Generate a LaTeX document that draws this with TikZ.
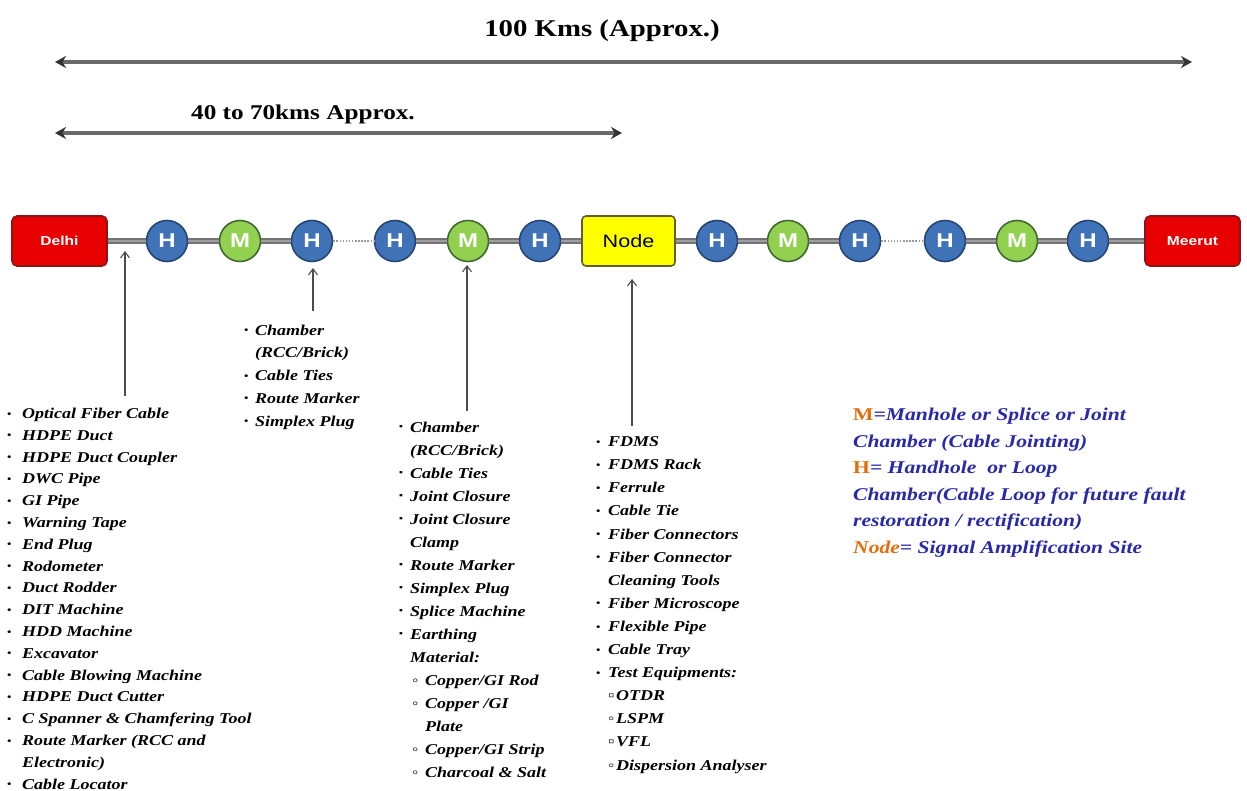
\documentclass[tikz,border=0pt]{standalone}
\usepackage{fontspec}
\usepackage{graphicx}
\setmainfont{Liberation Serif}
\setsansfont{Liberation Sans}
\newfontfamily\wideserif[FakeStretch=1.2]{Liberation Serif}
\newfontfamily\widesans[FakeStretch=1.2]{Liberation Sans}
\usetikzlibrary{arrows.meta}
\definecolor{hblue}{RGB}{64,114,184}
\definecolor{hborder}{RGB}{40,70,115}
\definecolor{mgreen}{RGB}{146,208,80}
\definecolor{mborder}{RGB}{65,105,50}
\definecolor{cityred}{RGB}{232,0,0}
\definecolor{cityborder}{RGB}{140,20,20}
\definecolor{ampyellow}{RGB}{255,255,0}
\definecolor{ampborder}{RGB}{95,95,45}
\definecolor{legblue}{RGB}{40,40,170}
\definecolor{legorange}{RGB}{228,108,10}
\definecolor{dimgray}{RGB}{105,105,105}
\newlength\bw
\newcommand\blt{\makebox[\bw][l]{\raisebox{.2ex}{\fontsize{10}{10}\selectfont\textbullet}}}
\newcommand\sqb{\makebox[\bw][l]{\raisebox{.3ex}{\fontsize{9}{9}\selectfont ▪}}}
\newcommand\cnt{\hspace*{\bw}}
\begin{document}
\begin{tikzpicture}[x=1pt,y=-1pt,
  hc/.style={circle, minimum size=41pt, inner sep=0pt, fill=hblue, draw=hborder, line width=1.6pt,
    text=white, font=\widesans\bfseries\fontsize{20}{20}\selectfont},
  mc/.style={hc, fill=mgreen, draw=mborder},
  city/.style={rectangle, rounded corners=5pt, minimum width=95pt, minimum height=50pt, inner sep=0pt,
    fill=cityred, draw=cityborder, line width=1.6pt, text=white, font=\widesans\bfseries\fontsize{13}{13}\selectfont},
  ampbox/.style={rectangle, rounded corners=4pt, minimum width=93pt, minimum height=50pt, inner sep=0pt,
    fill=ampyellow, draw=ampborder, line width=1.6pt, text=black, font=\widesans\fontsize{18}{18}\selectfont},
  pipe/.style={draw=black!55, double=black!38, double distance=2.5pt, line width=2.2pt},
  dotline/.style={draw=black!40, line width=1.4pt, dash pattern=on 1.5pt off 1.6pt},
  dimarrow/.style={draw=dimgray, line width=3.8pt,
    {Stealth[length=11pt,width=12pt,color=black!80]}-{Stealth[length=11pt,width=12pt,color=black!80]}},
  callout/.style={draw=black!70, line width=1.1pt, -{Straight Barb[length=6pt,width=9pt]}},
  listtext/.style={align=left, inner sep=0pt, anchor=base west, text=black},
  legtext/.style={align=left, inner sep=0pt, anchor=base west, text=legblue,
    font=\wideserif\bfseries\itshape\fontsize{18}{26.5}\selectfont},
  headtext/.style={inner sep=0pt, anchor=base, text=black}
]
\useasboundingbox (0,0) rectangle (1247,791);

% distance indicators
\node[headtext, font=\wideserif\bfseries\fontsize{24}{24}\selectfont] (title) at (602,37) {100 Kms (Approx.)};
\coordinate (L1l) at (55,62);
\coordinate (L1r) at (1192,62);
\draw[dimarrow] (L1l) -- (L1r);
\node[headtext, font=\wideserif\bfseries\fontsize{21}{21}\selectfont] (sub) at (303,120) {40 to 70kms Approx.};
\coordinate (L2l) at (55,133);
\coordinate (L2r) at (622,133);
\draw[dimarrow] (L2l) -- (L2r);

% route
\node[city] (delhi) at (59.5,241) {Delhi};
\node[hc] (h1) at (167,241) {H};
\node[mc] (m1) at (240,241) {M};
\node[hc] (h2) at (312,241) {H};
\node[hc] (h3) at (395,241) {H};
\node[mc] (m2) at (468,241) {M};
\node[hc] (h4) at (540,241) {H};
\node[ampbox] (amp) at (628.5,241) {Node};
\node[hc] (h5) at (717,241) {H};
\node[mc] (m3) at (788,241) {M};
\node[hc] (h6) at (860,241) {H};
\node[hc] (h7) at (945,241) {H};
\node[mc] (m4) at (1017,241) {M};
\node[hc] (h8) at (1088,241) {H};
\node[city] (meerut) at (1192.5,241) {Meerut};

\draw[pipe] (delhi) -- (h1);
\draw[pipe] (h1) -- (m1);
\draw[pipe] (m1) -- (h2);
\draw[dotline] (h2) -- (h3);
\draw[pipe] (h3) -- (m2);
\draw[pipe] (m2) -- (h4);
\draw[pipe] (h4) -- (amp);
\draw[pipe] (amp) -- (h5);
\draw[pipe] (h5) -- (m3);
\draw[pipe] (m3) -- (h6);
\draw[dotline] (h6) -- (h7);
\draw[pipe] (h7) -- (m4);
\draw[pipe] (m4) -- (h8);
\draw[pipe] (h8) -- (meerut);

% call-out arrows
\coordinate (a1b) at (125,396); \coordinate (a1t) at (125,251);
\coordinate (a2b) at (313,311); \coordinate (a2t) at (313,268);
\coordinate (a3b) at (467,411); \coordinate (a3t) at (467,265);
\coordinate (a4b) at (632,426); \coordinate (a4t) at (632,279);
\draw[callout] (a1b) -- (a1t);
\draw[callout] (a2b) -- (a2t);
\draw[callout] (a3b) -- (a3t);
\draw[callout] (a4b) -- (a4t);

% lists (anchored at the baseline of the last line)
\global\bw=15pt
\node[listtext, font=\wideserif\bfseries\itshape\fontsize{15}{21.8}\selectfont] (listA) at (7,789) {%
\blt Optical Fiber Cable\\
\blt HDPE Duct\\
\blt HDPE Duct Coupler\\
\blt DWC Pipe\\
\blt GI Pipe\\
\blt Warning Tape\\
\blt End Plug\\
\blt Rodometer\\
\blt Duct Rodder\\
\blt DIT Machine\\
\blt HDD Machine\\
\blt Excavator\\
\blt Cable Blowing Machine\\
\blt HDPE Duct Cutter\\
\blt C Spanner \& Chamfering Tool\\
\blt Route Marker (RCC and\\
\cnt Electronic)\\
\blt Cable Locator};

\global\bw=11pt
\node[listtext, font=\wideserif\bfseries\itshape\fontsize{15}{22.7}\selectfont] (listB) at (244,426) {%
\blt Chamber\\
\cnt (RCC/Brick)\\
\blt Cable Ties\\
\blt Route Marker\\
\blt Simplex Plug};

\global\bw=11pt
\node[listtext, font=\wideserif\bfseries\itshape\fontsize{15}{23}\selectfont] (listC) at (399,777) {%
\sqb Chamber\\
\cnt (RCC/Brick)\\
\sqb Cable Ties\\
\sqb Joint Closure\\
\sqb Joint Closure\\
\cnt Clamp\\
\sqb Route Marker\\
\sqb Simplex Plug\\
\sqb Splice Machine\\
\sqb Earthing\\
\cnt Material:\\
\hspace*{13pt}\makebox[13pt][l]{◦}Copper/GI Rod\\
\hspace*{13pt}\makebox[13pt][l]{◦}Copper /GI\\
\hspace*{26pt}Plate\\
\hspace*{13pt}\makebox[13pt][l]{◦}Copper/GI Strip\\
\hspace*{13pt}\makebox[13pt][l]{◦}Charcoal \& Salt};

\global\bw=12pt
\node[listtext, font=\wideserif\bfseries\itshape\fontsize{15}{23.1}\selectfont] (listD) at (596,770) {%
\blt FDMS\\
\blt FDMS Rack\\
\blt Ferrule\\
\blt Cable Tie\\
\blt Fiber Connectors\\
\blt Fiber Connector\\
\cnt Cleaning Tools\\
\blt Fiber Microscope\\
\blt Flexible Pipe\\
\blt Cable Tray\\
\blt Test Equipments:\\
\cnt\makebox[8pt][l]{▫}OTDR\\
\cnt\makebox[8pt][l]{◦}LSPM\\
\cnt\makebox[8pt][l]{▫}VFL\\
\cnt\makebox[8pt][l]{◦}Dispersion Analyser};

% legend
\node[legtext] (legend) at (853,553) {%
\textcolor{legorange}{\upshape M}=Manhole or Splice or Joint\\
Chamber (Cable Jointing)\\
\textcolor{legorange}{\upshape H}= Handhole~ or Loop\\
Chamber(Cable Loop for future fault\\
restoration / rectification)\\
\textcolor{legorange}{Node}= Signal Amplification Site};
\end{tikzpicture}
\end{document}
